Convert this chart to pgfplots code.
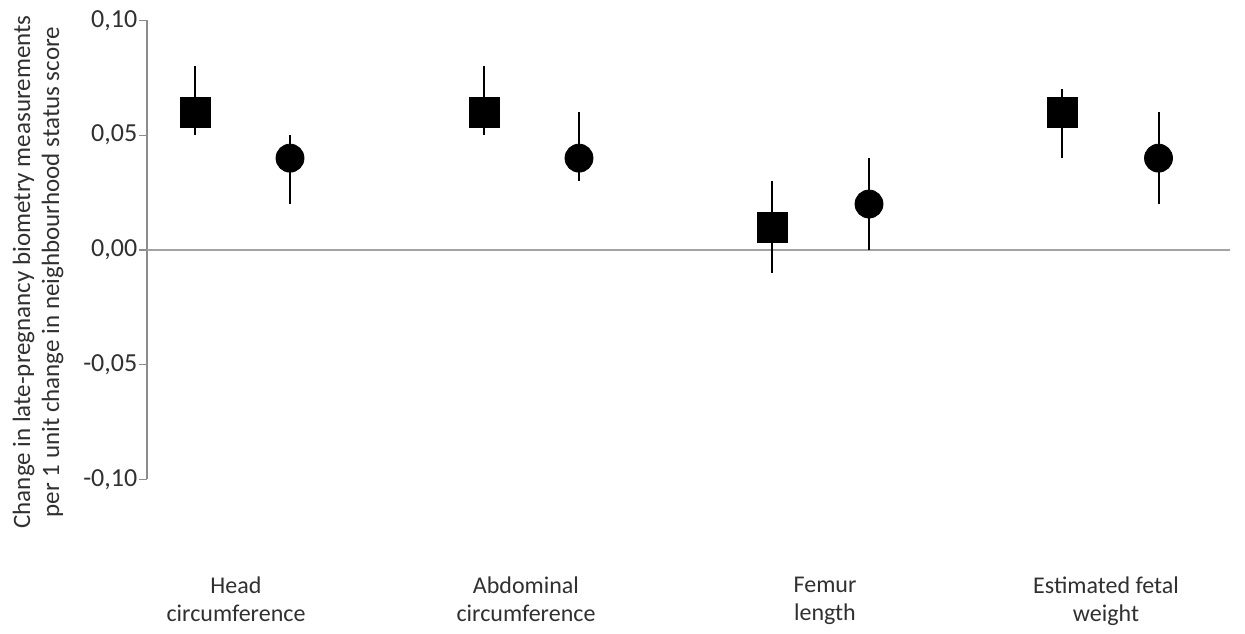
\documentclass[border=0pt]{standalone}
\usepackage{fontspec}
\setmainfont{Carlito}
\usepackage{pgfplots}
\pgfplotsset{compat=1.18}
\definecolor{axisgray}{HTML}{8C8C8C}
\definecolor{txt}{HTML}{303030}
\begin{document}
\fontsize{11}{13.5}\selectfont
\begin{tikzpicture}
\begin{axis}[
  scale only axis,
  width=541.5pt, height=229.5pt,
  xmin=147, xmax=1230, ymin=-0.10, ymax=0.10,
  clip=false,
  axis y line*=left,
  axis x line*=bottom,
  x axis line style={draw=none},
  y axis line style={draw=axisgray, line width=0.6pt},
  ytick={-0.1,-0.05,0,0.05,0.1},
  yticklabels={{-0,10},{-0,05},{0,00},{0,05},{0,10}},
  tick align=outside,
  major tick length=4pt,
  ytick style={draw=axisgray, line width=0.6pt},
  xtick={236,526,825,1106},
  xticklabels={{Head\\circumference},{Abdominal\\circumference},{Femur\\length},{Estimated fetal\\weight}},
  xtick style={draw=none},
  xticklabel style={align=center, yshift=-41pt, text=txt, font=\fontsize{12}{14}\selectfont},
  yticklabel style={text=txt, xshift=3pt, font=\fontsize{13}{15}\selectfont},
  ylabel={Change in late-pregnancy biometry measurements\\per 1 unit change in neighbourhood status score},
  ylabel style={align=center, text=txt, font=\fontsize{12.5}{14.5}\selectfont,
    at={(axis description cs:-0.1006,0.452)}, anchor=center, rotate=0},
]
\path[draw=none] (axis cs:0,-0.1608) rectangle (axis cs:1245,0.1089);
\addplot[color=axisgray!80, line width=0.6pt, forget plot] coordinates {(147,0) (1230,0)};
\addplot[only marks, mark=square*, mark size=7.5pt, black,
  error bars/.cd, y dir=both, y explicit, error mark=none,
  error bar style={line width=1pt, black}]
  coordinates {
  (195,0.06) += (0,0.02) -= (0,0.01)
  (484,0.06) += (0,0.02) -= (0,0.01)
  (772,0.01) += (0,0.02) -= (0,0.02)
  (1062,0.06) += (0,0.01) -= (0,0.02)
  };
\addplot[only marks, mark=*, mark size=7pt, black,
  error bars/.cd, y dir=both, y explicit, error mark=none,
  error bar style={line width=1pt, black}]
  coordinates {
  (290,0.04) += (0,0.01) -= (0,0.02)
  (579,0.04) += (0,0.02) -= (0,0.01)
  (869,0.02) += (0,0.02) -= (0,0.02)
  (1158.5,0.04) += (0,0.02) -= (0,0.02)
  };
\end{axis}
\end{tikzpicture}
\end{document}
